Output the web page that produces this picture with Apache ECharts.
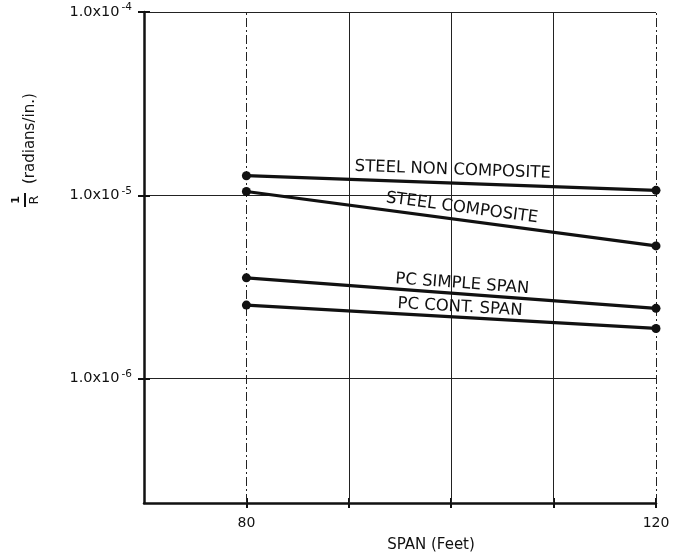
<!DOCTYPE html>
<html>
<head>
<meta charset="utf-8">
<style>
  html, body { margin: 0; padding: 0; background: #fff; }
  #chart { width: 680px; height: 554px; }
</style>
<script src="https://cdn.jsdelivr.net/npm/echarts@6/dist/echarts.min.js"></script>
</head>
<body>
<div id="chart"></div>
<script>
// Span lengths (ft) at which curvatures were computed
const spans = [80, 120];

// Curvature 1/R (radians/in.) for each bridge type
const steelNonComposite = [1.28e-5, 1.065e-5];
const steelComposite    = [1.05e-5, 5.3e-6];
const pcSimpleSpan      = [3.55e-6, 2.42e-6];
const pcContSpan        = [2.52e-6, 1.88e-6];

const seriesNames = ['STEEL NON COMPOSITE', 'STEEL COMPOSITE', 'PC SIMPLE SPAN', 'PC CONT. SPAN'];
const seriesValues = [steelNonComposite, steelComposite, pcSimpleSpan, pcContSpan];

// Axis ticks, labels and grid positions
const spanTicks = [80, 90, 100, 110, 120];
const labelledSpans = [80, 120];
const dashedSpans = [80, 120];
const curvatureTicks = [1e-6, 1e-5, 1e-4];

const FONT = '"DejaVu Sans", "Liberation Sans", sans-serif';
const INK = '#111';

const chart = echarts.init(document.getElementById('chart'), null, { renderer: 'canvas' });

function decadeLabel(v) {
  const r = Math.round(Math.log10(v));
  return '1.0x10{s|' + r + '}';
}

// Vertical grid lines: the outer spans are drawn dash-dot, the inner ones solid
const spanGrid = spanTicks.map(s => ({
  xAxis: s,
  lineStyle: dashedSpans.includes(s)
    ? { color: '#222', width: 1, type: [9, 3, 2, 3] }
    : { color: '#222', width: 1, type: 'solid' }
}));

const lineSeries = seriesValues.map((vals, i) => ({
  name: seriesNames[i],
  type: 'line',
  data: spans.map((s, j) => [s, vals[j]]),
  symbol: 'circle',
  symbolSize: 9,
  itemStyle: { color: INK },
  lineStyle: { color: INK, width: 3.2 },
  z: 5
}));

lineSeries.push({
  name: 'span-grid',
  type: 'line',
  data: [],
  silent: true,
  z: 1,
  markLine: {
    silent: true,
    symbol: ['none', 'none'],
    label: { show: false },
    emphasis: { disabled: true },
    data: spanGrid
  }
});

chart.setOption({
  backgroundColor: '#fff',
  animation: false,
  grid: { left: 144, right: 24, top: 12, bottom: 51, outerBoundsMode: 'none' },
  xAxis: [{
    type: 'value',
    min: 70, max: 120, interval: 10,
    name: 'SPAN (Feet)',
    nameLocation: 'middle',
    nameGap: 35,
    nameTextStyle: { fontFamily: FONT, fontSize: 15, color: INK, padding: [0, 0, 0, 62] },
    axisLine: { lineStyle: { color: INK, width: 2.5 } },
    axisTick: { show: true, length: 5, customValues: spanTicks, lineStyle: { color: INK, width: 2 } },
    axisLabel: {
      fontFamily: FONT, fontSize: 14, color: INK, margin: 13,
      customValues: labelledSpans
    },
    splitLine: { show: false }
  }, {
    // inner half of the crossing tick marks
    type: 'value',
    position: 'bottom',
    min: 70, max: 120, interval: 10,
    axisLine: { show: false },
    axisTick: { show: true, inside: true, length: 5, customValues: spanTicks, lineStyle: { color: INK, width: 2 } },
    axisLabel: { show: false },
    splitLine: { show: false }
  }],
  yAxis: [{
    type: 'log',
    logBase: 10,
    min: 2.1e-7, max: 1e-4,
    axisLine: { show: true, lineStyle: { color: INK, width: 2.5 } },
    axisTick: { show: true, length: 6, customValues: curvatureTicks, lineStyle: { color: INK, width: 2 } },
    axisLabel: {
      fontFamily: FONT, fontSize: 14.5, color: INK, margin: 12,
      customValues: curvatureTicks,
      formatter: decadeLabel,
      rich: { s: { fontFamily: FONT, fontSize: 10.5, color: INK, padding: [0, 0, 9, 2] } }
    },
    splitLine: { show: true, lineStyle: { color: '#222', width: 1 } }
  }, {
    // inner half of the crossing tick marks
    type: 'log',
    logBase: 10,
    position: 'left',
    min: 2.1e-7, max: 1e-4,
    axisLine: { show: false },
    axisTick: { show: true, inside: true, length: 6, customValues: curvatureTicks, lineStyle: { color: INK, width: 2 } },
    axisLabel: { show: false },
    splitLine: { show: false }
  }],
  series: lineSeries
});

// Line captions: centred over each line near x = 100 ft, turned to follow its slope
const captionAt = [100.1, 100.9, 101, 100.8];
const captionLift = [13, 12, 10, 10];
const graphics = [];
seriesValues.forEach((vals, i) => {
  const p0 = chart.convertToPixel({ gridIndex: 0 }, [spans[0], vals[0]]);
  const p1 = chart.convertToPixel({ gridIndex: 0 }, [spans[1], vals[1]]);
  const px = chart.convertToPixel({ gridIndex: 0 }, [captionAt[i], vals[0]])[0];
  const t = (px - p0[0]) / (p1[0] - p0[0]);
  const py = p0[1] + t * (p1[1] - p0[1]);
  const ang = Math.atan2(p1[1] - p0[1], p1[0] - p0[0]);
  graphics.push({
    type: 'text',
    x: px + Math.sin(ang) * captionLift[i],
    y: py - Math.cos(ang) * captionLift[i],
    rotation: -ang,
    style: {
      text: seriesNames[i],
      font: '16.5px ' + FONT,
      fill: INK,
      align: 'center',
      verticalAlign: 'middle'
    },
    z: 10
  });
});

// Vertical axis title: 1/R (radians/in.)
graphics.push({
  type: 'group',
  x: 25, y: 200,
  rotation: Math.PI / 2,
  children: [
    { type: 'text', x: 0, y: -3, style: { text: '1', font: 'bold 11px ' + FONT, fill: INK, align: 'center', verticalAlign: 'bottom' } },
    { type: 'line', shape: { x1: -7, y1: 0, x2: 7, y2: 0 }, style: { stroke: INK, lineWidth: 2 } },
    { type: 'text', x: 0, y: 3, style: { text: 'R', font: '13px ' + FONT, fill: INK, align: 'center', verticalAlign: 'top' } },
    { type: 'text', x: 16, y: 5, style: { text: '(radians/in.)', font: '15px ' + FONT, fill: INK, align: 'left', verticalAlign: 'middle' } }
  ]
});

chart.setOption({ graphic: graphics });
</script>
</body>
</html>
